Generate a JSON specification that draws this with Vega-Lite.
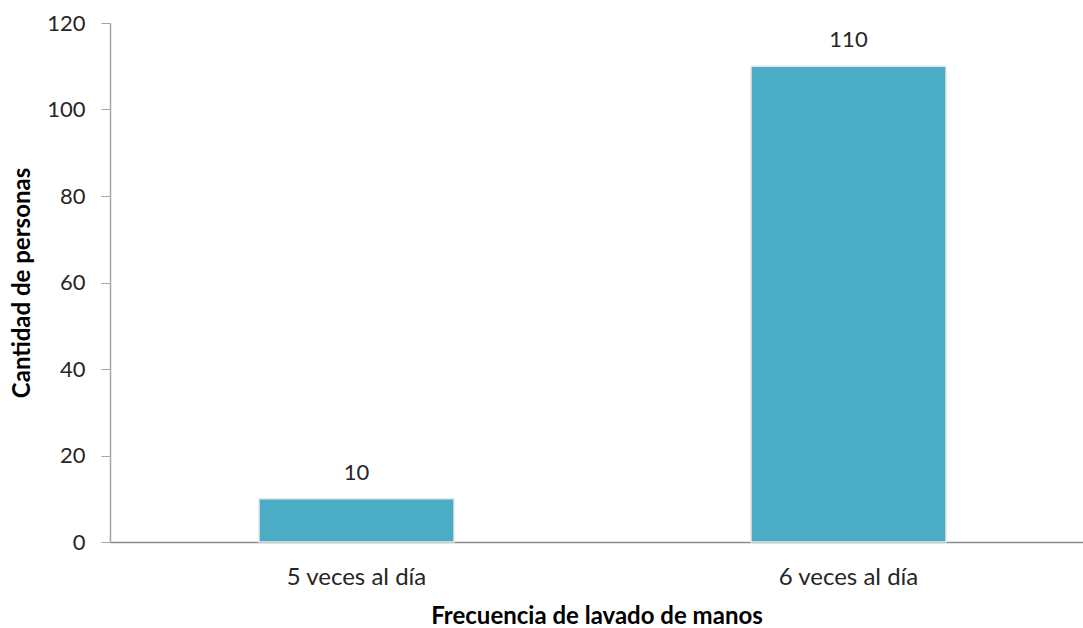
{
  "$schema": "https://vega.github.io/schema/vega-lite/v6.json",
  "width": 973,
  "height": 519,
  "autosize": {"type": "none"},
  "padding": {"left": 110, "top": 23, "right": 0, "bottom": 86},
  "background": "white",
  "config": {
    "view": {"stroke": null},
    "font": "Lato",
    "axis": {"labelFont": "Lato", "titleFont": "Lato"}
  },
  "data": {
    "values": [
      {"frecuencia": "5 veces al día", "personas": 10},
      {"frecuencia": "6 veces al día", "personas": 110}
    ]
  },
  "encoding": {
    "x": {
      "field": "frecuencia",
      "type": "nominal",
      "sort": null,
      "scale": {"paddingInner": 0.6037, "paddingOuter": 0.2907, "align": 0.521},
      "axis": {
        "title": "Frecuencia de lavado de manos",
        "titleFontSize": 24,
        "titleFontWeight": "bold",
        "titleColor": "#000000",
        "titlePadding": 15,
        "labelAngle": 0,
        "labelFontSize": 24,
        "labelColor": "#262626",
        "labelPadding": 23,
        "ticks": false,
        "domainColor": "#8c8c8c",
        "domainWidth": 1.5,
        "grid": false
      }
    },
    "y": {
      "field": "personas",
      "type": "quantitative",
      "scale": {"domain": [0, 120], "nice": false},
      "axis": {
        "title": "Cantidad de personas",
        "titleFontSize": 24,
        "titleFontWeight": "bold",
        "titleColor": "#000000",
        "titlePadding": 12,
        "values": [0, 20, 40, 60, 80, 100, 120],
        "labelFontSize": 22,
        "labelColor": "#262626",
        "labelPadding": 16,
        "tickSize": 9,
        "tickColor": "#a6a6a6",
        "domainColor": "#a6a6a6",
        "domainWidth": 1.5,
        "grid": false
      }
    }
  },
  "layer": [
    {
      "mark": {"type": "bar", "color": "#4BACC6", "stroke": "#e6e6e6", "strokeWidth": 1.5}
    },
    {
      "mark": {"type": "text", "dy": -19, "baseline": "alphabetic", "fontSize": 22, "color": "#262626"},
      "encoding": {"text": {"field": "personas", "type": "quantitative"}}
    }
  ]
}
